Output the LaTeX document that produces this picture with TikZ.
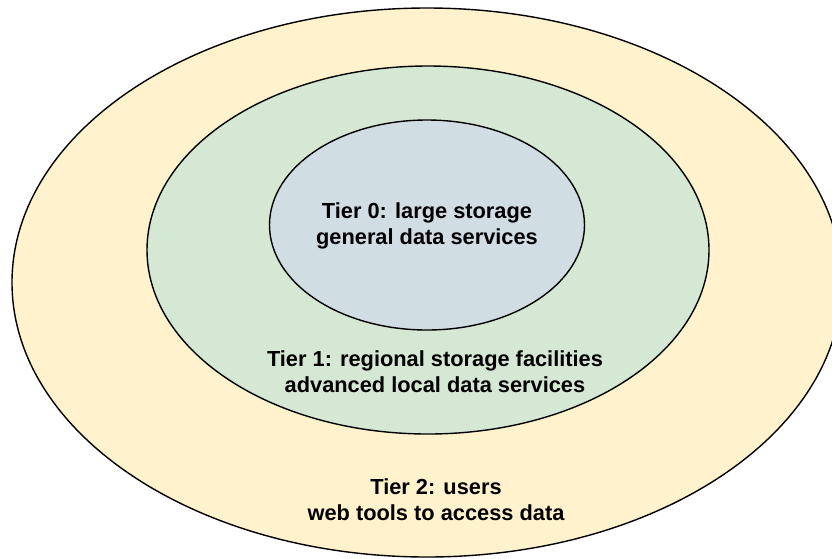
\documentclass[tikz,border=0pt]{standalone}
\usepackage{fontspec}
\setmainfont{Liberation Sans}
\usetikzlibrary{shapes.geometric}
\definecolor{tiertwo}{HTML}{FFF2CC}
\definecolor{tierone}{HTML}{D5E8D4}
\definecolor{tierzero}{HTML}{D0DEE4}
\begin{document}
\begin{tikzpicture}[x=1pt,y=-1pt,
  ring/.style={ellipse,draw=black,line width=1.4pt,inner sep=0pt},
  label/.style={align=center,font=\bfseries\fontsize{21.8}{26}\selectfont,text=black}]
\useasboundingbox (0,0) rectangle (832,558);
\clip (0,0) rectangle (832,558);
\node[ring,fill=tiertwo,minimum width=830pt,minimum height=549pt] (t2) at (427,282.5) {};
\node[ring,fill=tierone,minimum width=562pt,minimum height=368pt] (t1) at (428,250) {};
\node[ring,fill=tierzero,minimum width=315pt,minimum height=210pt] (t0) at (427,225) {};
\node[label] (l0) at (427,226) {Tier 0: large storage\\general data services};
\node[label] (l1) at (435,372) {Tier 1: regional storage facilities\\advanced local data services};
\node[label] (l2) at (436,500) {Tier 2: users\\web tools to access data};
\end{tikzpicture}
\end{document}
